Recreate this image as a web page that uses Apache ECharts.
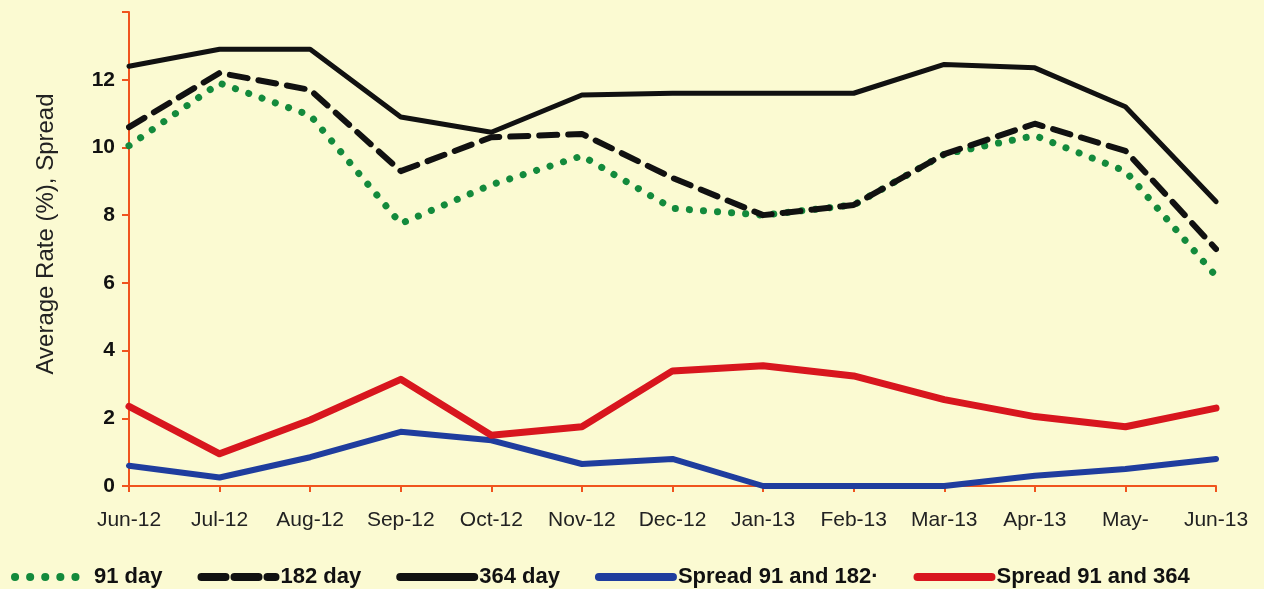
<!DOCTYPE html>
<html>
<head>
<meta charset="utf-8">
<script src="https://cdn.jsdelivr.net/npm/echarts@6/dist/echarts.min.js"></script>
<style>
  html, body { margin: 0; padding: 0; background: #fbfad2; }
  #chart { width: 1264px; height: 589px; }
</style>
</head>
<body>
<div id="chart"></div>
<script>
// months on the x axis
var months = ['Jun-12', 'Jul-12', 'Aug-12', 'Sep-12', 'Oct-12', 'Nov-12', 'Dec-12',
  'Jan-13', 'Feb-13', 'Mar-13', 'Apr-13', 'May-', 'Jun-13'];

// average rates (%)
var day91 = [10.05, 11.9, 10.95, 7.75, 8.9, 9.75, 8.2, 8.0, 8.3, 9.8, 10.35, 9.3, 6.2];
var day182 = [10.6, 12.2, 11.7, 9.3, 10.3, 10.4, 9.1, 8.0, 8.3, 9.8, 10.7, 9.9, 7.0];
var day364 = [12.4, 12.9, 12.9, 10.9, 10.45, 11.55, 11.6, 11.6, 11.6, 12.45, 12.35, 11.2, 8.4];
var spread182 = [0.6, 0.25, 0.85, 1.6, 1.35, 0.65, 0.8, 0.0, 0.0, 0.0, 0.3, 0.5, 0.8];
var spread364 = [2.35, 0.95, 1.95, 3.15, 1.5, 1.75, 3.4, 3.55, 3.25, 2.55, 2.05, 1.75, 2.3];

var seriesNames = ['91 day', '182 day', '364 day', 'Spread 91 and 182·', 'Spread 91 and 364'];

var axisColor = '#f0541e';
var font = 'Liberation Sans, Arial';

// colour, width and dash per series
var styles = [
  { color: '#138a3c', width: 7, type: [0.1, 14] },
  { color: '#111', width: 6, type: [18, 11] },
  { color: '#111', width: 5, type: 'solid' },
  { color: '#1f3d9e', width: 6, type: 'solid' },
  { color: '#d8161e', width: 7, type: 'solid' }
];
var legendDash = [[0.1, 15], [24, 9], 'solid', 'solid', 'solid'];

var chart = echarts.init(document.getElementById('chart'));

function line(name, data, st) {
  return {
    name: name,
    type: 'line',
    data: data,
    symbol: 'none',
    animation: false,
    lineStyle: { color: st.color, width: st.width, type: st.type, cap: 'round', join: 'round' },
    itemStyle: { color: st.color }
  };
}

var option = {
  backgroundColor: '#fbfad2',
  grid: { left: 129, right: 48, top: 12, bottom: 103 },
  xAxis: {
    type: 'category',
    boundaryGap: false,
    data: months,
    axisLine: { lineStyle: { color: axisColor, width: 2 } },
    axisTick: { show: true, length: 6, alignWithLabel: true, lineStyle: { color: axisColor, width: 2 } },
    axisLabel: { color: '#222', fontFamily: font, fontSize: 21, margin: 24, interval: 0 }
  },
  yAxis: {
    type: 'value',
    min: 0,
    max: 14,
    interval: 2,
    name: 'Average Rate (%), Spread',
    nameLocation: 'middle',
    nameGap: 71,
    nameTextStyle: { color: '#222', fontFamily: font, fontSize: 24, padding: [0, 0, 0, 30] },
    splitLine: { show: false },
    axisLine: { show: true, lineStyle: { color: axisColor, width: 2 } },
    axisTick: { show: true, length: 7, lineStyle: { color: axisColor, width: 2 } },
    axisLabel: {
      color: '#111', fontFamily: font, fontSize: 21, fontWeight: 'bold', margin: 14,
      formatter: function (v) { return v === 14 ? '' : v; }
    }
  },
  legend: {
    left: 6,
    top: 561,
    itemWidth: 74,
    itemHeight: 12,
    itemGap: 35,
    itemStyle: { opacity: 0 },
    textStyle: { color: '#111', fontFamily: font, fontSize: 22, fontWeight: 'bold' },
    data: seriesNames.map(function (n, i) {
      return {
        name: n,
        lineStyle: { width: 8, type: legendDash[i], cap: 'round', color: styles[i].color }
      };
    })
  },
  series: [
    line(seriesNames[0], day91, styles[0]),
    line(seriesNames[1], day182, styles[1]),
    line(seriesNames[2], day364, styles[2]),
    line(seriesNames[3], spread182, styles[3]),
    line(seriesNames[4], spread364, styles[4])
  ]
};

chart.setOption(option);
</script>
</body>
</html>
